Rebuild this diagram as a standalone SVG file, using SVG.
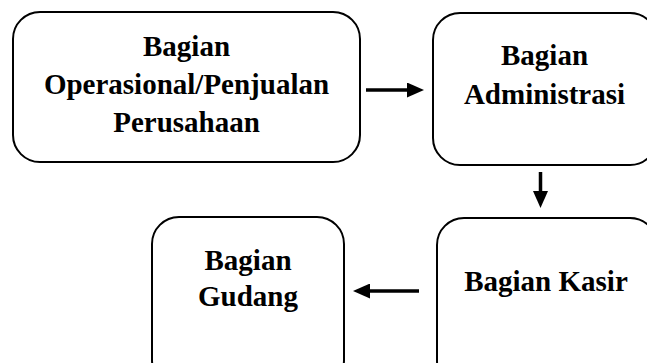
<svg xmlns="http://www.w3.org/2000/svg" width="647" height="363" viewBox="0 0 647 363">
<style>
.box{fill:#fff;stroke:#000;stroke-width:2}
.t{font-family:"Liberation Serif","Times New Roman",serif;font-weight:bold;font-size:29px;fill:#000;text-anchor:middle}
.c{stroke:#000;stroke-width:3.5;fill:none}
</style>
<defs>
<marker id="ah" markerWidth="17" markerHeight="15" refX="0" refY="7.5" orient="auto" markerUnits="userSpaceOnUse">
<path d="M0,0 L17,7.5 L0,15 Z" fill="#000"/>
</marker>
</defs>
<rect width="647" height="363" fill="#fff"/>
<g id="n1">
<rect class="box" x="13" y="12" width="347" height="150" rx="27"/>
<text class="t" x="186.5" y="56">Bagian</text>
<text class="t" x="186.5" y="94">Operasional/Penjualan</text>
<text class="t" x="186.5" y="132">Perusahaan</text>
</g>
<g id="n2">
<rect class="box" x="433" y="13" width="224" height="152" rx="27"/>
<text class="t" x="544.5" y="65">Bagian</text>
<text class="t" x="544.5" y="104">Administrasi</text>
</g>
<g id="n3">
<rect class="box" x="152" y="217" width="192" height="170" rx="27"/>
<text class="t" x="248" y="270">Bagian</text>
<text class="t" x="248" y="306">Gudang</text>
</g>
<g id="n4">
<rect class="box" x="437" y="218" width="220" height="170" rx="27"/>
<text class="t" x="546" y="291">Bagian Kasir</text>
</g>
<g id="connectors">
<line class="c" x1="366" y1="90" x2="407" y2="90" marker-end="url(#ah)"/>
<line class="c" x1="540.5" y1="172" x2="540.5" y2="191" marker-end="url(#ah)"/>
<line class="c" x1="419" y1="291" x2="370" y2="291" marker-end="url(#ah)"/>
</g>
</svg>
